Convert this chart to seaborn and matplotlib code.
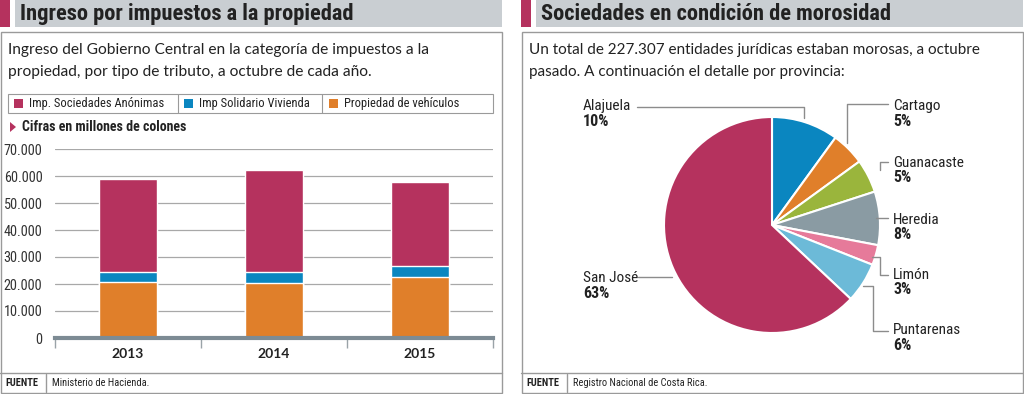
import numpy as np
import pandas as pd
import matplotlib
matplotlib.use("Agg")
import matplotlib.pyplot as plt
from matplotlib import font_manager
from matplotlib.patches import Rectangle, Polygon
from matplotlib.lines import Line2D
import seaborn as sns

# ---------------- data ----------------
years = ["2013", "2014", "2015"]
vehiculos = [20600, 20200, 22600]
solidario = [4000, 4100, 4100]
sociedades = [34200, 37900, 31000]
bar_series = ["Imp. Sociedades Anónimas", "Imp Solidario Vivienda", "Propiedad de vehículos"]
y_ticks = [0, 10000, 20000, 30000, 40000, 50000, 60000, 70000]
y_tick_labels = ["0", "10.000", "20.000", "30.000", "40.000", "50.000", "60.000", "70.000"]

provincias = ["Alajuela", "Cartago", "Guanacaste", "Heredia", "Limón", "Puntarenas", "San José"]
porcentajes = [10, 5, 5, 8, 3, 6, 63]

# ---------------- style ----------------
sns.set_theme(style="white")
names = {f.name for f in font_manager.fontManager.ttflist}
COND = next((n for n in ["Roboto Condensed", "Liberation Sans Narrow", "Open Sans Condensed", "Roboto"] if n in names), "DejaVu Sans")
REG = next((n for n in ["Lato", "Open Sans", "Roboto"] if n in names), "DejaVu Sans")
plt.rcParams['font.family'] = [REG, 'DejaVu Sans']

W, H = 1024, 394
fig = plt.figure(figsize=(W / 100, H / 100), dpi=100)
fig.patch.set_facecolor("white")

PINK = "#b5325e"
BLUE = "#0a86c0"
ORANGE = "#e07f2a"
HEAD = "#c9ced2"
TXT = "#222222"
BORDER = "#9a9a9a"

def fx(x): return x / W
def fy(y): return 1 - y / H

def rect(x0, y0, x1, y1, fc="none", ec="none", lw=1.0, z=0):
    fig.patches.append(Rectangle((fx(x0), fy(y1)), fx(x1) - fx(x0), fy(y0) - fy(y1),
                                 transform=fig.transFigure, fc=fc, ec=ec, lw=lw, zorder=z))

def line(xs, ys, c=BORDER, lw=1.0, z=2):
    fig.lines.append(Line2D([fx(v) for v in xs], [fy(v) for v in ys], transform=fig.transFigure,
                            color=c, lw=lw, zorder=z))

def text(x, y, s, size=10, family=None, weight="normal", ha="left", va="center", color=TXT):
    fig.text(fx(x), fy(y), s, fontsize=size, family=[family or REG, "DejaVu Sans"],
             fontweight=weight, ha=ha, va=va, color=color)

# ---------------- panel frames ----------------
for (x0, x1, title, sub1, sub2, src, ssize) in [
    (0, 502, "Ingreso por impuestos a la propiedad",
     "Ingreso del Gobierno Central en la categoría de impuestos a la",
     "propiedad, por tipo de tributo, a octubre de cada año.", "Ministerio de Hacienda.", 11.2),
    (521, 1023, "Sociedades en condición de morosidad",
     "Un total de 227.307 entidades jurídicas estaban morosas, a octubre",
     "pasado. A continuación el detalle por provincia:", "Registro Nacional de Costa Rica.", 11.0),
]:
    rect(x0, 0, x0 + 10, 27, fc=PINK)
    rect(x0 + 15, 0, x1, 27, fc=HEAD)
    text(x0 + 20, 14, title, size=16.2, family=COND, weight="bold")
    rect(x0 + 0.5, 32, x1, 393, ec=BORDER, lw=1.0)
    text(x0 + 8, 50, sub1, size=ssize)
    text(x0 + 8, 72, sub2, size=ssize)
    line([x0, x1], [373, 373], c=BORDER)
    line([x0 + 46, x0 + 46], [374, 392], c=BORDER)
    text(x0 + 5, 383, "FUENTE", size=7.5, family=COND, weight="bold")
    text(x0 + 52, 383, src, size=7.5, family=COND)

# ---------------- legend (left) ----------------
rect(8, 94, 493, 113, ec=BORDER, lw=0.8)
line([178, 178], [94, 113], c=BORDER, lw=0.8)
line([322, 322], [94, 113], c=BORDER, lw=0.8)
for (lx, col, lab) in [(14, PINK, bar_series[0]), (184, BLUE, bar_series[1]), (329, ORANGE, bar_series[2])]:
    rect(lx, 99, lx + 9, 108, fc=col)
    text(lx + 15, 103.5, lab, size=9, family=COND)

fig.patches.append(Polygon([[fx(10), fy(122)], [fx(10), fy(132)], [fx(16), fy(127)]],
                           closed=True, transform=fig.transFigure, fc=PINK, ec="none"))
text(22, 127, "Cifras en millones de colones", size=10, family=COND, weight="bold")

# ---------------- stacked bar chart ----------------
df = pd.DataFrame({"year": years, "veh": vehiculos, "sol": solidario, "soc": sociedades})
df["top"] = df["veh"] + df["sol"] + df["soc"]
df["mid"] = df["veh"] + df["sol"]

ax = fig.add_axes([fx(55), fy(338), (493 - 55) / W, (338 - 149) / H])
sns.barplot(data=df, x="year", y="top", color=PINK, width=0.4, saturation=1, ax=ax, zorder=3)
sns.barplot(data=df, x="year", y="mid", color=BLUE, width=0.4, saturation=1, ax=ax, zorder=3)
sns.barplot(data=df, x="year", y="veh", color=ORANGE, width=0.4, saturation=1, ax=ax, zorder=3)
ax.set_xlim(-0.5, 2.5)
ax.set_ylim(0, 70000)
ax.set_yticks(y_ticks)
ax.set_yticklabels(y_tick_labels)
ax.set_xlabel("")
ax.set_ylabel("")
ax.set_facecolor("none")
for s in ["top", "right", "left"]:
    ax.spines[s].set_visible(False)
ax.spines["bottom"].set_color("#7d8b94")
ax.spines["bottom"].set_linewidth(3)
ax.spines["bottom"].set_zorder(5)
ax.yaxis.grid(True, color="#a8a8a8", lw=0.9, zorder=0)
ax.xaxis.grid(False)
ax.tick_params(axis="y", length=0, pad=9, labelsize=10.3, labelcolor="#333333")
ax.set_xticks([0, 1, 2])
ax.set_xticklabels(years, fontweight="bold", fontsize=10)
ax.tick_params(axis="x", length=0, pad=7, labelcolor=TXT)
ax.set_xticks([-0.5, 0.5, 1.5, 2.5], minor=True)
ax.tick_params(axis="x", which="minor", bottom=True, length=7, width=1, color="#9aa3a8", direction="out")
for lbl in ax.get_yticklabels():
    lbl.set_family([COND, "DejaVu Sans"])

# ---------------- pie chart ----------------
pie_colors = [BLUE, ORANGE, "#9ab53c", "#8a9ba3", "#e67a9a", "#6cbad8", PINK]
r_px = 108
cx, cy = 772, 225
pax = fig.add_axes([fx(cx - r_px), fy(cy + r_px), 2 * r_px / W, 2 * r_px / H])
pax.pie(porcentajes, colors=pie_colors, startangle=90, counterclock=False, radius=1,
        wedgeprops=dict(edgecolor="white", linewidth=1.5))
pax.set_xlim(-1, 1)
pax.set_ylim(-1, 1)
pax.axis("off")

LC = "#8c8c8c"
labels_pos = {
    "Alajuela": (583, 106),
    "Cartago": (893, 106),
    "Guanacaste": (893, 163),
    "Heredia": (893, 220),
    "Limón": (893, 275),
    "Puntarenas": (893, 330),
    "San José": (583, 278),
}
for name, pct in zip(provincias, porcentajes):
    x, y = labels_pos[name]
    text(x, y, name, size=11, family=COND)
    text(x, y + 15, f"{pct}%", size=11.5, family=COND, weight="bold")

line([637, 804, 804], [107, 107, 118], c=LC)
line([888, 847, 847], [104, 104, 143], c=LC)
line([888, 880, 880], [162, 162, 170], c=LC)
line([888, 876], [218, 218], c=LC)
line([872, 880, 880, 888], [257, 257, 275, 275], c=LC)
line([863, 873, 873, 888], [286, 286, 331, 331], c=LC)
line([638, 672], [277, 277], c=LC)

fig.savefig("out.png", dpi=100, facecolor="white")
